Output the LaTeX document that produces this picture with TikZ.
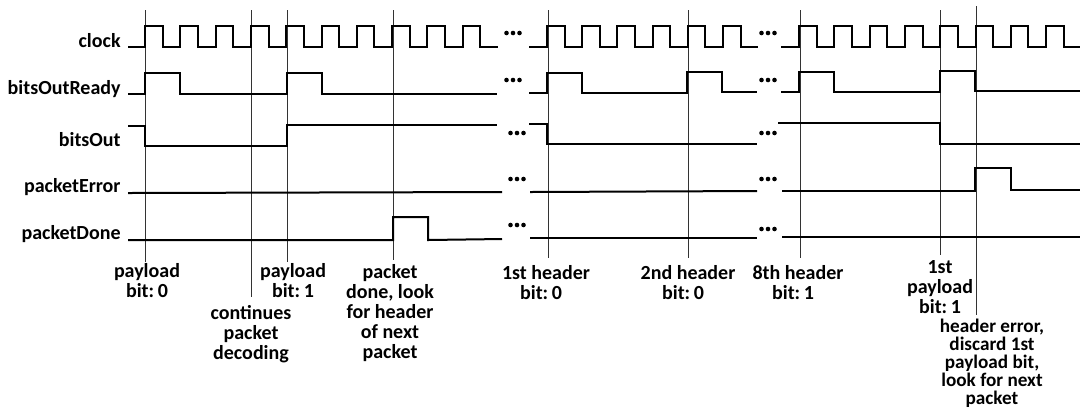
\documentclass[tikz,border=0pt]{standalone}
\usepackage{fontspec}
\setmainfont{Carlito}
\begin{document}
\begin{tikzpicture}[x=0.5pt,y=-0.5pt,
  sig/.style={line width=1pt, line join=miter},
  tline/.style={line width=0.45pt, black!80},
  siglabel/.style={anchor=base east, inner sep=0pt, font=\bfseries\fontsize{10}{12}\selectfont},
  note/.style={anchor=north, inner sep=0pt, align=center, font=\bfseries\fontsize{10}{10}\selectfont},
  notetight/.style={note, font=\bfseries\fontsize{9.6}{9}\selectfont},
  ellip/.pic={\fill (-6.5,0) circle (1.15pt) (0,0) circle (1.15pt) (6.5,0) circle (1.15pt);}
]
\useasboundingbox (0,0) rectangle (1080,409);

% signal names
\node[siglabel] (nclock) at (121,47) {clock};
\node[siglabel] (nready) at (121,94) {bitsOutReady};
\node[siglabel] (nbits)  at (121,146) {bitsOut};
\node[siglabel] (nerr)   at (121,192) {packetError};
\node[siglabel] (ndone)  at (121,239) {packetDone};

% time marker lines
\foreach \x/\yb in {145/262, 251/297, 287/262, 393/260, 548/258, 688/258, 800/258, 940/255}
  \draw[tline] (\x,10) -- (\x,\yb);
\draw[tline] (976,6) -- (976,315);

% clock
\draw[sig] (128,47) -- (145,47) foreach \k in {1,...,10} { -- ++(0,-21) -- ++(17.65,0) -- ++(0,21) -- ++(17.65,0) };
\draw[sig] (529,47) -- (547,47) foreach \k in {1,...,6} { -- ++(0,-21) -- ++(17.6,0) -- ++(0,21) -- ++(17.6,0) };
\draw[sig] (781,47) -- (799,47) foreach \k in {1,...,7} { -- ++(0,-21) -- ++(17.65,0) -- ++(0,21) -- ++(17.65,0) }
  -- ++(0,-21) -- ++(17.65,0) -- ++(0,21) -- (1080,47);

% bitsOutReady
\draw[sig] (128,94) -- (145,94) -- (145,73) -- (180,73) -- (180,94) -- (287,94) -- (287,73) -- (322,73) -- (322,94) -- (497,94);
\draw[sig] (529,93) -- (547,93) -- (547,73) -- (582,73) -- (582,93) -- (687,93) -- (687,72) -- (722,72) -- (722,92) -- (757,92);
\draw[sig] (781,92) -- (799,92) -- (799,72) -- (834,72) -- (834,92) -- (940,92) -- (940,71) -- (975,71) -- (975,91) -- (1080,91);

% bitsOut
\draw[sig] (128,126) -- (145,126) -- (145,146) -- (287,146) -- (287,125) -- (497,125);
\draw[sig] (529,124) -- (547,124) -- (547,144) -- (757,144);
\draw[sig] (778,123) -- (940,123) -- (940,144) -- (1080,144);

% packetError
\draw[sig] (128,193) -- (502,192);
\draw[sig] (530,192) -- (757,191);
\draw[sig] (782,191) -- (975,191) -- (975,168) -- (1011,168) -- (1011,190) -- (1080,190);

% packetDone
\draw[sig] (128,240) -- (393,240) -- (393,217) -- (428,217) -- (428,240) -- (502,239);
\draw[sig] (530,238) -- (757,238);
\draw[sig] (782,237) -- (1080,237);

% ellipses
\foreach \x/\y in {513/33, 513/80, 517/133, 517/179, 517/225,
                   768/33, 768/80, 768/133, 768/179, 768/229}
  \pic at (\x,\y) {ellip};

% annotations
\node[note] (a) at (147,263) {payload\\bit:\hspace{0.18em}0};
\node[note] (b) at (251,305) {continues\\packet\\decoding};
\node[note] (c) at (293,263) {payload\\bit:\hspace{0.18em}1};
\node[note] (d) at (390,264) {packet\\done, look\\for header\\of next\\packet};
\node[note] (e) at (546,265) {1st header\\bit:\hspace{0.18em}0\hspace*{5pt}};
\node[note] (f) at (688,265) {2nd header\\bit:\hspace{0.18em}0\hspace*{5pt}};
\node[note] (g) at (798,265) {8th header\\bit:\hspace{0.18em}1\hspace*{5pt}};
\node[note] (h) at (940,260) {1st\\payload\\bit:\hspace{0.18em}1};
\node[notetight] (i) at (992,319) {header error,\\discard 1st\\payload bit,\\look for next\\packet};
\end{tikzpicture}
\end{document}
